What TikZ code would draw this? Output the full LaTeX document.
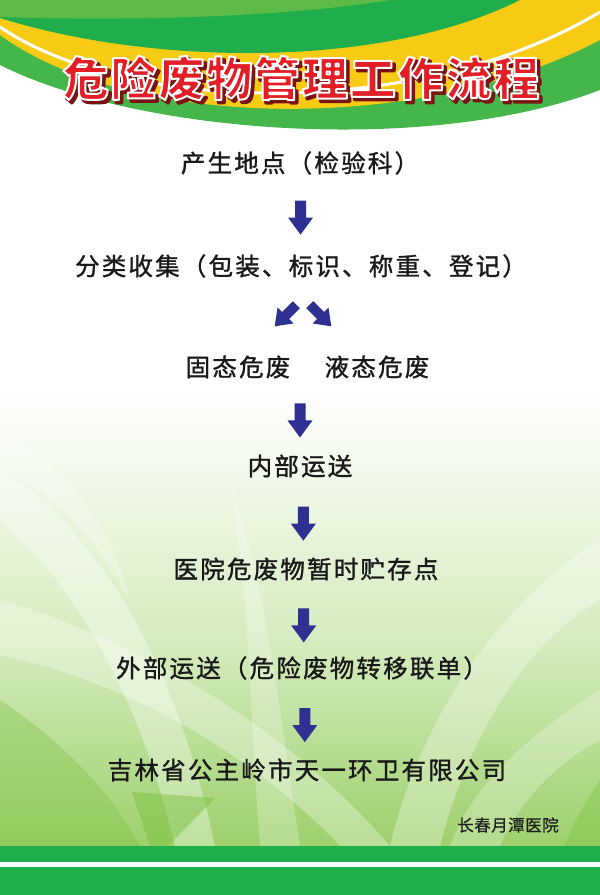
\documentclass[tikz,border=0pt]{standalone}
\usepackage{fontspec}
\setmainfont{Noto Sans CJK SC}
\newfontfamily\titlefont[LetterSpace=4]{Noto Sans CJK SC}
\newfontfamily\bodyfont[LetterSpace=9,FakeBold=1.2]{Noto Sans CJK SC}
\newfontfamily\smallfont[LetterSpace=3,FakeBold=0.8]{Noto Sans CJK SC}
\usetikzlibrary{calc}
\definecolor{glight}{HTML}{5DBA47}
\definecolor{gdark}{HTML}{1FAE4B}
\definecolor{gmid}{HTML}{45B649}
\definecolor{gyel}{HTML}{F8CC14}
\definecolor{gband}{HTML}{20B04B}
\definecolor{bgbot}{HTML}{9ED06C}
\definecolor{bgmid}{HTML}{D6ECC0}
\definecolor{leafdark}{HTML}{7CC242}
\definecolor{arrowblue}{HTML}{2E3192}
\definecolor{titlered}{HTML}{E21E26}
\definecolor{shadowred}{HTML}{7A1414}
\begin{document}
\begin{tikzpicture}[x=1pt,y=-1pt,
  txt/.style={font=\bodyfont\fontsize{24.5}{28}\selectfont, text=black!90, inner sep=0pt},
  smalltxt/.style={font=\smallfont\fontsize{16.5}{20}\selectfont, text=black!88, inner sep=0pt},
  ttl/.style={font=\titlefont\bfseries\fontsize{46}{50}\selectfont, inner sep=0pt},
  downarr/.pic={\fill[arrowblue] (-5.5,-17) -- (5.5,-17) -- (5.5,0) -- (12.5,0) -- (0,17) -- (-12.5,0) -- (-5.5,0) -- cycle;}
]
\useasboundingbox (0,0) rectangle (600,895);
% ---------- background ----------
\fill[white] (0,0) rectangle (600,895);
\shade[top color=white, bottom color=bgmid] (0,390) rectangle (600,640);
\shade[top color=bgmid, bottom color=bgbot] (0,640) rectangle (600,846);
% leaves
\begin{scope}
\clip (0,380) rectangle (600,846);
\fill[white, opacity=0.35] (0,470) .. controls (110,540) and (180,680) .. (215,846) -- (175,846) .. controls (140,700) and (80,590) .. (0,520) -- cycle;
\fill[white, opacity=0.30] (0,600) .. controls (140,640) and (290,730) .. (390,846) -- (340,846) .. controls (250,750) and (120,680) .. (0,655) -- cycle;
\fill[white, opacity=0.30] (600,540) .. controls (500,600) and (420,720) .. (390,846) -- (440,846) .. controls (470,730) and (530,640) .. (600,600) -- cycle;
\fill[white, opacity=0.25] (600,690) .. controls (520,740) and (470,790) .. (450,846) -- (500,846) .. controls (520,800) and (560,760) .. (600,740) -- cycle;
\fill[white, opacity=0.25] (230,480) .. controls (250,600) and (250,720) .. (260,846) -- (300,846) .. controls (280,720) and (270,600) .. (230,480) -- cycle;
\fill[leafdark, opacity=0.35] (0,700) .. controls (60,740) and (110,790) .. (140,846) -- (0,846) -- cycle;
\fill[leafdark, opacity=0.5] (132,792) -- (215,798) -- (168,846) -- (150,846) -- cycle;
\fill[leafdark, opacity=0.4] (600,780) .. controls (580,810) and (570,830) .. (565,846) -- (600,846) -- cycle;
\fill[white, opacity=0.25] (0,430) .. controls (60,460) and (110,520) .. (130,600) .. controls (90,530) and (50,490) .. (0,470) -- cycle;
\end{scope}
% ---------- top banner ----------
\fill[gmid] (0,0) -- (0,65) .. controls (140,135) and (430,155) .. (600,90) -- (600,0) -- cycle;
\fill[gyel] (0,0) -- (0,35) .. controls (130,130) and (420,135) .. (600,40) -- (600,0) -- cycle;
\fill[gdark] (0,0) -- (0,18) .. controls (150,65) and (380,70) .. (520,0) -- cycle;
\fill[glight] (0,0) -- (0,17) .. controls (150,22) and (300,15) .. (390,0) -- cycle;
\draw[white, line width=3pt] (0,27) .. controls (130,115) and (420,120) .. (600,12);
% ---------- bottom bands ----------
\fill[gband] (0,846) rectangle (600,862);
\fill[white] (0,862) rectangle (600,867);
\fill[gband] (0,867) rectangle (600,895);
% ---------- title ----------
\node[ttl, text=shadowred] (titleshadow) at (304,81) {\special{pdf:literal direct 2 Tr 3 w 0.48 0.08 0.08 RG 1 j}危险废物管理工作流程\special{pdf:literal direct 0 Tr}};
\node[ttl, text=titlered] (title) at (301,78) {\special{pdf:literal direct 2 Tr 2 w 1 1 1 RG 1 j}危险废物管理工作流程\special{pdf:literal direct 0 Tr}};
% ---------- flow ----------
\node[txt] (src) at (300,163) {产生地点（检验科）};
\node[txt] (collect) at (301,266) {分类收集（包装、标识、称重、登记）};
\node[txt] (solid) at (238,367) {固态危废};
\node[txt] (liquid) at (377,367) {液态危废};
\coordinate (pair) at (300,367);
\node[txt] (inner) at (300,466) {内部运送};
\node[txt] (store) at (306,569) {医院危废物暂时贮存点};
\node[txt] (outer) at (302,668) {外部运送（危险废物转移联单）};
\node[txt] (company) at (307,770) {吉林省公主岭市天一环卫有限公司};
\node[smalltxt] (hosp) at (508,825) {长春月潭医院};
% arrows
\pic at ($(src)!0.53!(collect)$) {downarr};
\pic[rotate=-45, scale=0.9] at ($(collect)!0.49!(pair)+(-15,0)$) {downarr};
\pic[rotate=45, scale=0.9] at ($(collect)!0.49!(pair)+(20,0)$) {downarr};
\pic at ($(pair)!0.54!(inner)$) {downarr};
\pic at ($(inner)!0.56!(store)$) {downarr};
\pic at ($(store)!0.57!(outer)$) {downarr};
\pic at ($(outer)!0.56!(company)$) {downarr};
\end{tikzpicture}
\end{document}
